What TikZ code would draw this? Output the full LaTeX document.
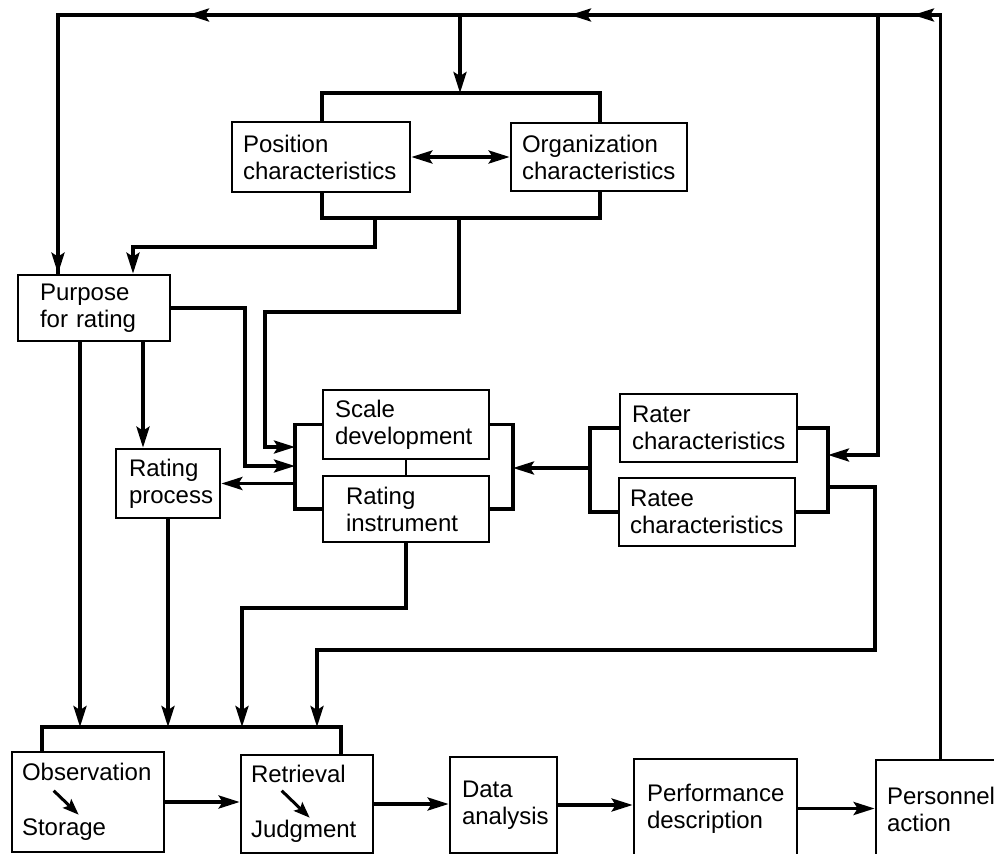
\documentclass[tikz,border=0pt]{standalone}
\usepackage{fontspec}
\setmainfont{Liberation Sans}
\usetikzlibrary{arrows.meta,calc}
\begin{document}
\begin{tikzpicture}[x=1pt,y=-1pt,
  bx/.style={draw, line width=2.7pt, rectangle, inner ysep=0pt, align=left,
    font=\fontsize{24}{27}\selectfont},
  ln/.style={line width=3.5pt},
  tip/.style={-{Stealth[length=21pt,width=13pt,inset=4pt]}},
  arr/.style={ln, tip},
  darr/.style={ln, {Stealth[length=21pt,width=13pt,inset=4pt]}-{Stealth[length=21pt,width=13pt,inset=4pt]}},
  inarr/.style={line width=3pt, -{Stealth[length=16pt,width=12pt,inset=3pt]}}
]
\useasboundingbox (0,0) rectangle (994,854);
\fill[white] (0,0) rectangle (994,854);
\def\mkbox#1#2#3#4#5#6#7{%
  \node[bx, minimum width={#4-#2}, minimum height={#5-#3}, text width={#4-#2-2*#6},
        inner xsep=#6pt] (#1) at ({(#2+#4)/2},{(#3+#5)/2}) {#7};}
% boxes
\mkbox{pos}{232}{122}{410}{192}{11}{Position\\characteristics}
\mkbox{org}{511}{123}{687}{191}{11}{Organization\\characteristics}
\mkbox{purp}{18}{275}{170}{341}{22}{Purpose\\for rating}
\mkbox{rproc}{116}{449}{220}{518}{13}{Rating\\process}
\mkbox{scale}{323}{390}{489}{459}{12}{Scale\\development}
\mkbox{instr}{323}{476}{489}{542}{23}{Rating\\instrument}
\mkbox{rater}{620}{394}{797}{462}{12}{Rater\\characteristics}
\mkbox{ratee}{619}{478}{795}{546}{11}{Ratee\\characteristics}
\mkbox{obs}{12}{752}{164}{852}{10}{Observation\\[28pt]Storage}
\mkbox{retr}{241}{755}{373}{853}{10}{Retrieval\\[28pt]Judgment}
\mkbox{data}{450}{757}{557}{853}{12}{Data\\analysis}
\mkbox{perf}{634}{759}{797}{858}{13}{Performance\\description}
\mkbox{pers}{876}{760}{1005}{858}{11}{Personnel\\action}
% inner arrows
\draw[inarr] ($(obs.north west)+(43,40)$) -- ($(obs.north west)+(68,64)$);
\draw[inarr] ($(retr.north west)+(42,37)$) -- ($(retr.north west)+(70,64)$);
% coordinates
\coordinate (tL) at (58,15);
\coordinate (a1) at (913,15);
\coordinate (a2) at (570,15);
\coordinate (a3) at (188,15);
\coordinate (b1) at (878,15);
\coordinate (b2) at (460,15);
\coordinate (pt) at (460,93);
\coordinate (pbl) at (322,93);
\coordinate (pbr) at (600,93);
\coordinate (pbbl) at (322,218);
\coordinate (pbbr) at (600,218);
\coordinate (d1) at (375,218);
\coordinate (d1b) at (133,247);
\coordinate (d2) at (459,218);
\coordinate (d2b) at (265,312);
\coordinate (d2c) at (265,447);
\coordinate (sbx) at (295,0);
\coordinate (sbr) at (513,0);
\coordinate (rbl) at (590,0);
\coordinate (rbr) at (828,0);
\coordinate (rin) at (828,455);
\coordinate (m1) at (590,468);
\coordinate (p1) at (245,466);
\coordinate (bb) at (0,727);
\coordinate (q1) at (80,0);
\coordinate (q2) at (143,0);
\coordinate (r1) at (828,487);
\coordinate (r2) at (875,650);
\coordinate (r3) at (317,0);
\coordinate (i1) at (242,608);
\coordinate (bbl) at (42,727);
\coordinate (bbr) at (341,727);
% top feedback loop
\draw[ln] (pers.north) -- (pers.north |- tL) -- (tL) -- (tL |- purp.north);
\draw[arr] (pers.north |- a1) -- (a1);
\draw[arr] (a1) -- (a2);
\draw[arr] (a2) -- (a3);
\draw[arr] (a3) -- (tL) -- (tL |- purp.north);
\draw[arr] (b1) |- (rin);
\draw[arr] (b2) -- (pt);
% position / organization group
\draw[ln] (pos.north -| pbl) -- (pbl) -- (pbr) -- (org.north -| pbr);
\draw[ln] (pos.south -| pbbl) -- (pbbl) -- (pbbr) -- (org.south -| pbbr);
\draw[darr] (pos.east) -- (org.west);
\draw[arr] (d1) |- (d1b) -- (d1b |- purp.north);
\draw[arr] (d2) |- (d2b) -- (d2c) -- (d2c -| sbx);
% purpose
\draw[arr] (purp.east) -| (p1) -- (p1 -| sbx);
\draw[arr] (q1 |- purp.south) -- (q1 |- bb);
\draw[arr] (q2 |- purp.south) -- (q2 |- rproc.north);
\draw[arr] (rproc.south) -- (rproc.south |- bb);
% scale / instrument group
\draw[ln] (scale.west) -- (scale.west -| sbx) -- (instr.west -| sbx) -- (instr.west);
\draw[ln] (scale.east) -- (scale.east -| sbr) -- (instr.east -| sbr) -- (instr.east);
\draw[line width=2.7pt] (scale.south) -- (instr.north);
\draw[arr] (sbx |- rproc.east) -- (rproc.east);
\draw[arr] (instr.south) |- (i1) -- (i1 |- bb);
% rater / ratee group
\draw[ln] (rater.west) -- (rater.west -| rbl) -- (ratee.west -| rbl) -- (ratee.west);
\draw[ln] (rater.east) -- (rater.east -| rbr) -- (ratee.east -| rbr) -- (ratee.east);
\draw[arr] (m1) -- (m1 -| sbr);
\draw[arr] (r1) -| (r2) -| (r3 |- bb);
% bottom bracket
\draw[ln] (obs.north -| bbl) -- (bbl) -- (bbr) -- (retr.north -| bbr);
% chain
\draw[arr] (obs.east) -- (obs.east -| retr.west);
\draw[arr] (retr.east) -- (retr.east -| data.west);
\draw[arr] (data.east) -- (data.east -| perf.west);
\draw[arr] (perf.east) -- (perf.east -| pers.west);
\end{tikzpicture}
\end{document}
